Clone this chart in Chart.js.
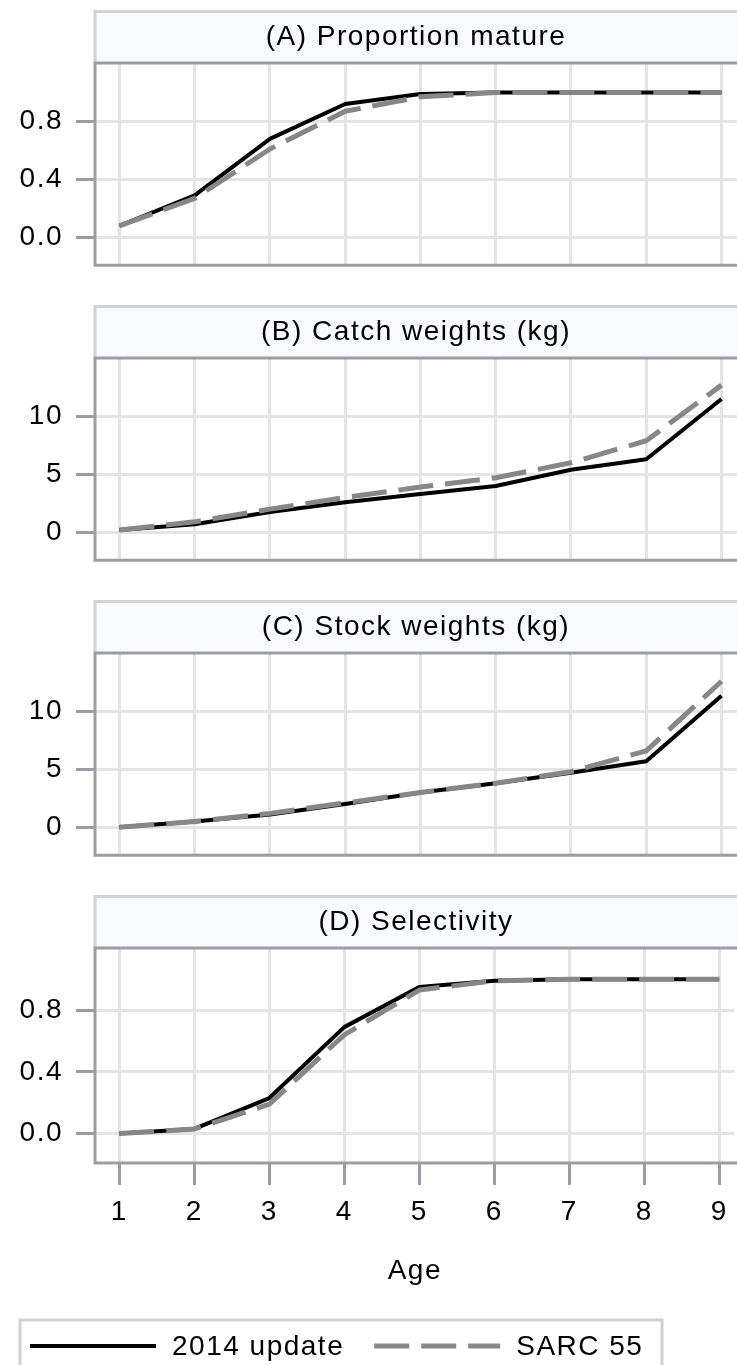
<!DOCTYPE html>
<html>
<head>
<meta charset="utf-8">
<title>Maturity, weights and selectivity at age</title>
<script src="https://cdn.jsdelivr.net/npm/chart.js@4.4.0/dist/chart.umd.min.js"></script>
<style>
  html, body { margin: 0; padding: 0; background: #fff; overflow: hidden; }
  #figure { position: relative; width: 737px; height: 1365px; }
  #figure canvas { position: absolute; left: 0; }
</style>
</head>
<body>
<div id="figure">
  <canvas id="panelA" width="737" height="295" style="top:0px"></canvas>
  <canvas id="panelB" width="737" height="295" style="top:295px"></canvas>
  <canvas id="panelC" width="737" height="295" style="top:590px"></canvas>
  <canvas id="panelD" width="737" height="480" style="top:885px"></canvas>
</div>
<script>
// ages and the two model runs
const ages = [1, 2, 3, 4, 5, 6, 7, 8, 9];
const seriesNames = ['2014 update', 'SARC 55'];
const panelTitles = ['(A) Proportion mature', '(B) Catch weights (kg)', '(C) Stock weights (kg)', '(D) Selectivity'];

const matureUpdate = [0.08, 0.29, 0.68, 0.92, 0.99, 1.00, 1.00, 1.00, 1.00];
const matureSarc   = [0.08, 0.27, 0.61, 0.87, 0.97, 1.00, 1.00, 1.00, 1.00];

const catchUpdate  = [0.2, 0.7, 1.75, 2.6, 3.3, 4.0, 5.4, 6.3, 11.5];
const catchSarc    = [0.2, 0.9, 2.0, 3.0, 3.9, 4.7, 6.0, 7.9, 12.7];

const stockUpdate  = [0.0, 0.5, 1.1, 2.0, 3.0, 3.8, 4.7, 5.7, 11.35];
const stockSarc    = [0.0, 0.5, 1.2, 2.1, 3.0, 3.8, 4.8, 6.6, 12.6];

const selUpdate    = [0.0, 0.03, 0.23, 0.69, 0.95, 0.99, 1.00, 1.00, 1.00];
const selSarc      = [0.0, 0.03, 0.19, 0.64, 0.93, 0.99, 1.00, 1.00, 1.00];

const fractionTicks = [0.0, 0.4, 0.8];
const weightTicks = [0, 5, 10];

const BLACK = '#000000';
const GREY = '#878787';
const FRAME = '#9a9ea3';
const GRID = '#e4e4e4';
const FONT = '"Liberation Sans", Arial, sans-serif';

Chart.defaults.font.family = FONT;
Chart.defaults.font.size = 28;
Chart.defaults.color = '#000';

// header strip above each plot plus the grey frame around it
const panelDecor = {
    id: 'panelDecor',
    beforeDraw(chart, args, opts) {
        const { ctx, chartArea: a } = chart;
        ctx.letterSpacing = '1.5px';
        ctx.save();
        ctx.fillStyle = '#f9faff';
        ctx.fillRect(a.left, opts.headerTop, chart.width - a.left, a.top - opts.headerTop);
        ctx.strokeStyle = '#d3d3d3';
        ctx.lineWidth = 3;
        ctx.beginPath();
        ctx.moveTo(a.left, a.top);
        ctx.lineTo(a.left, opts.headerTop + 1.5);
        ctx.lineTo(chart.width + 2, opts.headerTop + 1.5);
        ctx.stroke();
        ctx.fillStyle = '#000';
        ctx.font = '28px ' + FONT;
        ctx.textAlign = 'center';
        ctx.textBaseline = 'middle';
        ctx.fillText(opts.title, (a.left + chart.width) / 2, (opts.headerTop + a.top) / 2 + 1);
        ctx.restore();
    },
    afterDraw(chart) {
        const { ctx, chartArea: a } = chart;
        ctx.save();
        ctx.strokeStyle = FRAME;
        ctx.lineWidth = 3;
        ctx.beginPath();
        ctx.moveTo(chart.width + 2, a.top);
        ctx.lineTo(a.left, a.top);
        ctx.lineTo(a.left, a.bottom);
        ctx.lineTo(chart.width + 2, a.bottom);
        ctx.stroke();
        ctx.restore();
    }
};

// boxed key under the last panel, styled from the datasets
const seriesKey = {
    id: 'seriesKey',
    afterDraw(chart, args, opts) {
        const ctx = chart.ctx;
        ctx.save();
        ctx.strokeStyle = '#d0d0d0';
        ctx.lineWidth = 3;
        ctx.strokeRect(opts.left, opts.top, opts.right - opts.left, chart.height);
        ctx.font = '28px ' + FONT;
        ctx.textAlign = 'left';
        ctx.textBaseline = 'middle';
        const y = opts.top + 26;
        let x = opts.left + 10;
        chart.data.datasets.forEach(ds => {
            ctx.strokeStyle = ds.borderColor;
            ctx.lineWidth = ds.borderWidth;
            ctx.setLineDash(ds.borderDash || []);
            ctx.beginPath();
            ctx.moveTo(x, y);
            ctx.lineTo(x + 126, y);
            ctx.stroke();
            ctx.setLineDash([]);
            x += 126 + 16;
            ctx.fillStyle = '#000';
            ctx.fillText(ds.label, x, y + 1);
            x += ctx.measureText(ds.label).width + 30;
        });
        ctx.restore();
    }
};

function points(values) {
    return ages.map((a, i) => ({ x: a, y: values[i] }));
}

function buildPanel(id, title, updateVals, sarcVals, yTicks, yMin, yMax, decimals, showAgeAxis) {
    const plugins = showAgeAxis ? [panelDecor, seriesKey] : [panelDecor];
    return new Chart(document.getElementById(id), {
        type: 'line',
        data: {
            datasets: [
                { label: seriesNames[0], data: points(updateVals), borderColor: BLACK, borderWidth: 4, order: 1 },
                { label: seriesNames[1], data: points(sarcVals), borderColor: GREY, borderWidth: 5, borderDash: [35, 12], order: 0 }
            ]
        },
        options: {
            responsive: false,
            animation: false,
            layout: { padding: { top: 63, bottom: showAgeAxis ? 77 : 17, left: 0, right: 0 } },
            elements: {
                point: { radius: 0 },
                line: { tension: 0, borderCapStyle: 'butt', borderJoinStyle: 'round' }
            },
            plugins: {
                legend: { display: false },
                tooltip: { enabled: false },
                panelDecor: { title: title, headerTop: 10 },
                seriesKey: { left: 20, right: 662, top: 435 }
            },
            scales: {
                x: {
                    type: 'linear',
                    min: 0.676,
                    max: 9.206,
                    afterBuildTicks: s => { s.ticks = ages.map(v => ({ value: v })); },
                    afterFit: s => { s.height = showAgeAxis ? 125 : 0; },
                    grid: { color: GRID, lineWidth: 3, drawTicks: showAgeAxis, tickLength: 22, tickColor: FRAME },
                    border: { display: false },
                    ticks: { display: showAgeAxis, padding: 10, autoSkip: false, maxRotation: 0, callback: v => String(v) },
                    title: { display: showAgeAxis, text: 'Age', padding: { top: 0, bottom: 0 } }
                },
                y: {
                    min: yMin,
                    max: yMax,
                    afterBuildTicks: s => { s.ticks = yTicks.map(v => ({ value: v })); },
                    afterFit: s => { s.width = 95; },
                    grid: { color: GRID, lineWidth: 3, tickLength: 19, tickColor: FRAME },
                    border: { display: false },
                    ticks: { padding: 13, callback: v => Number(v).toFixed(decimals) }
                }
            }
        },
        plugins: plugins
    });
}

buildPanel('panelA', panelTitles[0], matureUpdate, matureSarc, fractionTicks, -0.191, 1.203, 1, false);
buildPanel('panelB', panelTitles[1], catchUpdate, catchSarc, weightTicks, -2.41, 15.04, 0, false);
buildPanel('panelC', panelTitles[2], stockUpdate, stockSarc, weightTicks, -2.41, 15.04, 0, false);
buildPanel('panelD', panelTitles[3], selUpdate, selSarc, fractionTicks, -0.191, 1.203, 1, true);
</script>
</body>
</html>
